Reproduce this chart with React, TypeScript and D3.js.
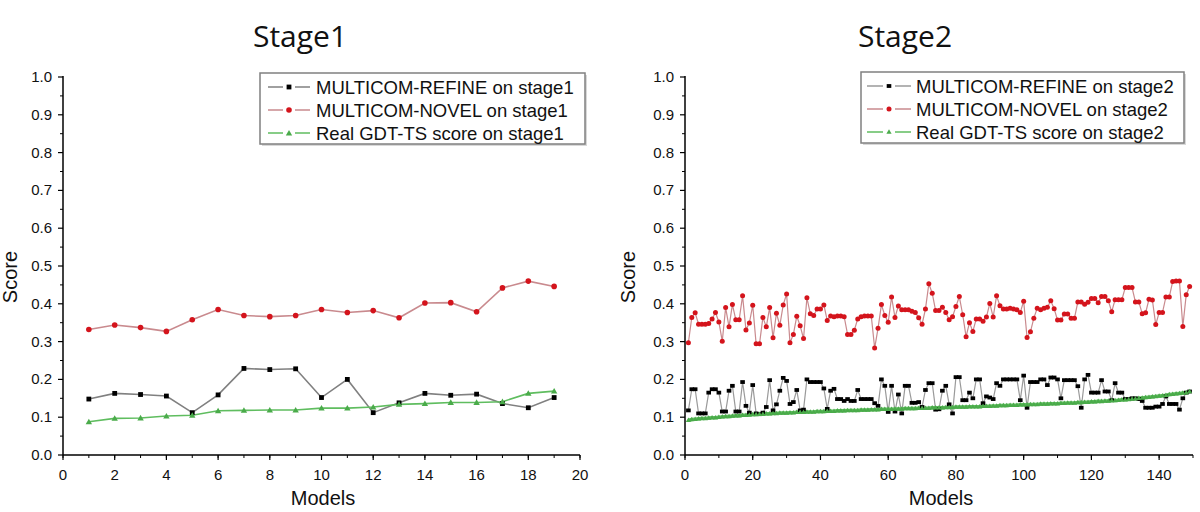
import React from "react";
import * as d3 from "d3";

// ---------- Stage 1 data ----------
const stage1Models = [1,2,3,4,5,6,7,8,9,10,11,12,13,14,15,16,17,18,19];
const stage1Refine = [0.148,0.163,0.160,0.156,0.112,0.159,0.229,0.226,0.228,0.152,0.200,0.112,0.138,0.163,0.158,0.161,0.136,0.125,0.152];
const stage1Novel = [0.332,0.344,0.337,0.327,0.358,0.385,0.369,0.366,0.369,0.385,0.377,0.382,0.363,0.402,0.403,0.379,0.442,0.460,0.446];
const stage1Gdt = [0.088,0.097,0.098,0.103,0.105,0.117,0.118,0.119,0.119,0.124,0.124,0.127,0.134,0.136,0.139,0.139,0.141,0.163,0.169];

// ---------- Stage 2 data (models 1..149) ----------
const stage2Novel = [
  0.297,0.364,0.376,0.346,0.346,0.346,0.348,0.360,0.377,0.352,
  0.301,0.390,0.339,0.398,0.358,0.358,0.421,0.331,0.349,0.396,
  0.294,0.294,0.364,0.339,0.390,0.310,0.375,0.343,0.397,0.426,
  0.297,0.319,0.367,0.342,0.308,0.416,0.374,0.369,0.386,0.386,
  0.397,0.356,0.368,0.366,0.368,0.368,0.366,0.319,0.319,0.330,
  0.360,0.366,0.368,0.368,0.368,0.283,0.335,0.398,0.369,0.351,
  0.418,0.364,0.394,0.384,0.384,0.384,0.380,0.377,0.363,0.346,
  0.386,0.453,0.428,0.382,0.382,0.391,0.377,0.358,0.366,0.393,
  0.419,0.371,0.313,0.350,0.327,0.360,0.360,0.354,0.365,0.401,
  0.365,0.421,0.395,0.386,0.386,0.388,0.386,0.384,0.377,0.407,
  0.311,0.326,0.362,0.388,0.384,0.388,0.391,0.408,0.387,0.357,
  0.357,0.373,0.373,0.362,0.362,0.405,0.405,0.399,0.404,0.414,
  0.414,0.403,0.419,0.419,0.408,0.379,0.411,0.411,0.411,0.443,
  0.443,0.443,0.405,0.405,0.374,0.376,0.412,0.410,0.345,0.377,
  0.377,0.418,0.418,0.459,0.460,0.460,0.340,0.424,0.446
];
const stage2Refine = [
  0.118,0.174,0.174,0.110,0.110,0.110,0.165,0.174,0.174,0.165,
  0.115,0.115,0.170,0.183,0.115,0.115,0.193,0.130,0.112,0.185,
  0.110,0.108,0.112,0.127,0.198,0.118,0.134,0.170,0.204,0.196,
  0.135,0.140,0.172,0.118,0.120,0.200,0.193,0.193,0.193,0.193,
  0.176,0.122,0.170,0.175,0.148,0.148,0.143,0.148,0.143,0.143,
  0.172,0.148,0.148,0.148,0.148,0.137,0.130,0.200,0.183,0.114,
  0.183,0.115,0.160,0.110,0.183,0.183,0.138,0.138,0.140,0.127,
  0.172,0.190,0.190,0.120,0.121,0.170,0.183,0.134,0.110,0.206,
  0.206,0.145,0.145,0.165,0.150,0.200,0.200,0.137,0.155,0.152,
  0.148,0.190,0.183,0.200,0.200,0.200,0.200,0.200,0.145,0.210,
  0.125,0.193,0.193,0.193,0.200,0.200,0.185,0.205,0.205,0.200,
  0.150,0.198,0.198,0.198,0.198,0.182,0.125,0.200,0.212,0.165,
  0.165,0.165,0.198,0.168,0.168,0.145,0.190,0.165,0.165,0.148,
  0.148,0.150,0.150,0.148,0.143,0.125,0.125,0.125,0.128,0.128,
  0.135,0.155,0.135,0.135,0.135,0.120,0.150,0.165,0.168
];
const stage2Gdt = [
  0.092,0.094,0.095,0.096,0.097,0.097,0.098,0.099,0.099,0.100,
  0.101,0.102,0.102,0.103,0.104,0.104,0.105,0.105,0.106,0.107,
  0.107,0.108,0.108,0.109,0.109,0.110,0.110,0.111,0.111,0.111,
  0.112,0.112,0.113,0.113,0.113,0.114,0.114,0.114,0.115,0.115,
  0.115,0.116,0.116,0.116,0.117,0.117,0.117,0.118,0.118,0.118,
  0.118,0.119,0.119,0.119,0.120,0.120,0.120,0.121,0.121,0.121,
  0.121,0.122,0.122,0.122,0.123,0.123,0.123,0.123,0.124,0.124,
  0.124,0.124,0.125,0.125,0.125,0.125,0.126,0.126,0.126,0.127,
  0.127,0.127,0.127,0.128,0.128,0.128,0.128,0.129,0.129,0.129,
  0.130,0.130,0.131,0.131,0.131,0.132,0.132,0.132,0.133,0.133,
  0.133,0.134,0.134,0.134,0.135,0.135,0.135,0.136,0.136,0.136,
  0.137,0.137,0.138,0.138,0.138,0.139,0.139,0.140,0.140,0.141,
  0.141,0.142,0.142,0.143,0.143,0.144,0.144,0.145,0.146,0.146,
  0.147,0.148,0.149,0.150,0.151,0.152,0.153,0.154,0.155,0.156,
  0.157,0.158,0.160,0.161,0.162,0.163,0.164,0.165,0.168
];
const stage2Models = stage2Novel.map((_, i) => i + 1);

const yTicks = [0, 0.1, 0.2, 0.3, 0.4, 0.5, 0.6, 0.7, 0.8, 0.9, 1.0];
const stage1XTicks = [0, 2, 4, 6, 8, 10, 12, 14, 16, 18, 20];
const stage2XTicks = [0, 20, 40, 60, 80, 100, 120, 140];

const FONT = "'Liberation Sans', Arial, sans-serif";

type LegendSpec = { x0: number; y0: number; x1: number; y1: number; lineX0: number; lineX1: number; textX: number; rows: number[] };

type PanelProps = {
  title: string;
  stage: string;
  xs: number[];
  refine: number[];
  novel: number[];
  gdt: number[];
  xDomain: [number, number];
  xRange: [number, number];
  xTicks: number[];
  xMinor: number;
  titleX: number;
  scoreX: number;
  modelsX: number;
  legend: LegendSpec;
  big: boolean;
};

function Marker({ kind, x, y, big }: { kind: string; x: number; y: number; big: boolean }) {
  if (kind === "square") {
    const w = big ? 4.8 : 4.6;
    const h = big ? 4.8 : 3.8;
    return <rect x={x - w / 2} y={y - h / 2} width={w} height={h} fill="#000" />;
  }
  if (kind === "circle") {
    return <circle cx={x} cy={y} r={big ? 2.8 : 2.5} fill="#d4141c" />;
  }
  const s = big ? 6.4 : 5.2;
  const path = d3.symbol(d3.symbolTriangle, (s * s * Math.sqrt(3)) / 4)();
  return <path d={path || ""} transform={`translate(${x},${y + (big ? 0.6 : 0.3)})`} fill="#4aab4a" />;
}

function Panel(p: PanelProps) {
  const x = d3.scaleLinear().domain(p.xDomain).range(p.xRange);
  const y = d3.scaleLinear().domain([0, 1]).range([455, 77]);
  const line = d3
    .line<number>()
    .x((_, i) => x(p.xs[i]))
    .y((d) => y(d));
  const minorX = d3.range(p.xDomain[0], p.xDomain[1] + 0.001, p.xMinor);
  const minorY = d3.range(0.05, 1, 0.1);
  const series = [
    { vals: p.refine, stroke: p.big ? "#808080" : "#9a9a9a", width: p.big ? 1.6 : 1.2, kind: "square", label: `MULTICOM-REFINE on ${p.stage}` },
    { vals: p.novel, stroke: "#c98a8e", width: p.big ? 1.6 : 1.2, kind: "circle", label: `MULTICOM-NOVEL on ${p.stage}` },
    { vals: p.gdt, stroke: "#5fbd5f", width: p.big ? 1.6 : 3.4, kind: "triangle", label: `Real GDT-TS score on ${p.stage}` },
  ];
  const x0 = p.xRange[0];
  const yb = y(0);
  const L = p.legend;
  const mx = (L.lineX0 + L.lineX1) / 2;
  return (
    <g>
      <text x={p.titleX} y={47} textAnchor="middle" fontFamily="'Open Sans', sans-serif" fontSize={30} fill="#111">
        {p.title}
      </text>
      {series.map((s, k) => (
        <path key={k} d={line(s.vals) || ""} fill="none" stroke={s.stroke} strokeWidth={s.width} />
      ))}
      {series.map((s, k) => (
        <g key={"m" + k}>
          {s.vals.map((v, i) => (
            <Marker key={i} kind={s.kind} x={x(p.xs[i])} y={y(v)} big={p.big} />
          ))}
        </g>
      ))}
      {/* axes */}
      <line x1={x0} x2={x0} y1={y(1) - 1} y2={yb} stroke="#000" strokeWidth={1.5} />
      <line x1={x0} x2={p.xRange[1]} y1={yb} y2={yb} stroke="#000" strokeWidth={1.5} />
      {yTicks.map((t) => (
        <g key={"yt" + t}>
          <line x1={x0 - 5} x2={x0} y1={y(t)} y2={y(t)} stroke="#000" strokeWidth={1.2} />
          <text x={x0 - 11} y={y(t) + 5} textAnchor="end" fontFamily={FONT} fontSize={15} fill="#111">
            {t.toFixed(1)}
          </text>
        </g>
      ))}
      {minorY.map((t) => (
        <line key={"ym" + t} x1={x0 - 3} x2={x0} y1={y(t)} y2={y(t)} stroke="#000" strokeWidth={1} />
      ))}
      {minorX.map((t) => (
        <line key={"xm" + t} x1={x(t)} x2={x(t)} y1={yb} y2={yb + 3} stroke="#000" strokeWidth={1} />
      ))}
      {p.xTicks.map((t) => (
        <g key={"xt" + t}>
          <line x1={x(t)} x2={x(t)} y1={yb} y2={yb + 5} stroke="#000" strokeWidth={1.2} />
          <text x={x(t)} y={yb + 25} textAnchor="middle" fontFamily={FONT} fontSize={15} fill="#111">
            {t}
          </text>
        </g>
      ))}
      <text
        transform={`translate(${p.scoreX},${277}) rotate(-90)`}
        textAnchor="middle"
        fontFamily={FONT}
        fontSize={20}
        fill="#111"
      >
        Score
      </text>
      <text x={p.modelsX} y={505} textAnchor="middle" fontFamily={FONT} fontSize={20} fill="#111">
        Models
      </text>
      {/* legend */}
      <rect x={L.x0 + 2} y={L.y0 + 2} width={L.x1 - L.x0} height={L.y1 - L.y0} fill="#d8d8d8" />
      <rect x={L.x0} y={L.y0} width={L.x1 - L.x0} height={L.y1 - L.y0} fill="#fff" stroke="#808080" strokeWidth={1.5} />
      {series.map((s, k) => {
        const ry = L.rows[k];
        return (
          <g key={"lg" + k}>
            <line x1={L.lineX0} x2={mx - 6} y1={ry} y2={ry} stroke={s.stroke} strokeWidth={1.5} />
            <line x1={mx + 6} x2={L.lineX1} y1={ry} y2={ry} stroke={s.stroke} strokeWidth={1.5} />
            <Marker kind={s.kind} x={mx} y={ry} big={p.big} />
            <text x={L.textX} y={ry + 6.5} fontFamily={FONT} fontSize={18.5} fill="#111">
              {s.label}
            </text>
          </g>
        );
      })}
    </g>
  );
}

export default function App() {
  return (
    <svg width={1200} height={512} style={{ position: "absolute", left: 0, top: 0, background: "#fff" }}>
      <rect width={1200} height={512} fill="#fff" />
      <Panel
        title="Stage1"
        stage="stage1"
        xs={stage1Models}
        refine={stage1Refine}
        novel={stage1Novel}
        gdt={stage1Gdt}
        xDomain={[0, 20]}
        xRange={[63, 580]}
        xTicks={stage1XTicks}
        xMinor={1}
        titleX={300}
        scoreX={17}
        modelsX={323}
        legend={{ x0: 260, y0: 73, x1: 585, y1: 144, lineX0: 268, lineX1: 310, textX: 316, rows: [87, 110, 133] }}
        big={true}
      />
      <Panel
        title="Stage2"
        stage="stage2"
        xs={stage2Models}
        refine={stage2Refine}
        novel={stage2Novel}
        gdt={stage2Gdt}
        xDomain={[0, 150]}
        xRange={[685, 1193]}
        xTicks={stage2XTicks}
        xMinor={10}
        titleX={905}
        scoreX={635}
        modelsX={941}
        legend={{ x0: 861, y0: 72, x1: 1184, y1: 143, lineX0: 867, lineX1: 911, textX: 916, rows: [86, 109, 132] }}
        big={false}
      />
    </svg>
  );
}
